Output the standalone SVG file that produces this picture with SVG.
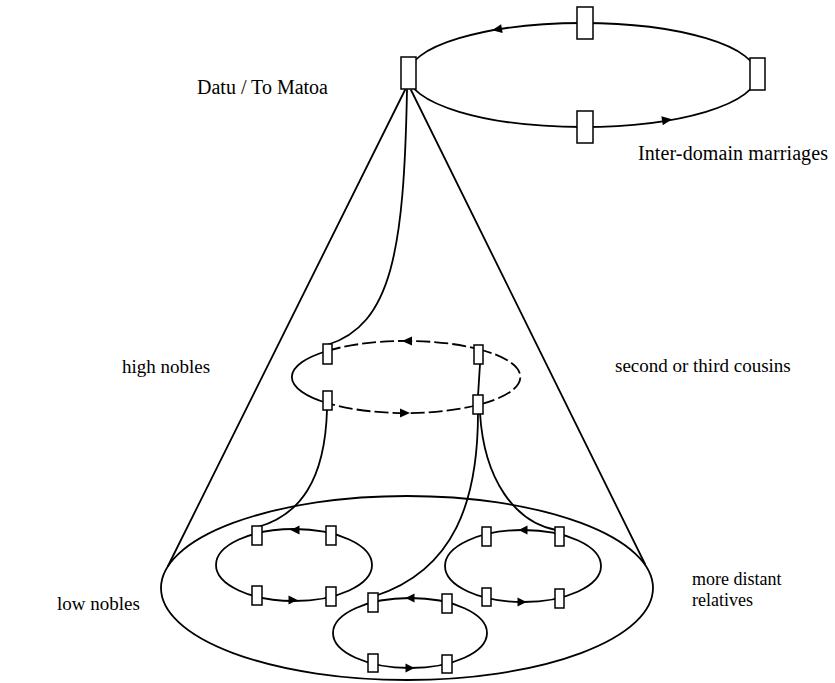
<svg xmlns="http://www.w3.org/2000/svg" width="835" height="683" viewBox="0 0 835 683">
<defs>
<style>
.ln{fill:none;stroke:#000;stroke-width:1.8;stroke-linecap:round}
.el{fill:none;stroke:#000;stroke-width:1.8}
.dash{fill:none;stroke:#000;stroke-width:1.8;stroke-dasharray:14 4}
.bx{fill:#fff;stroke:#000;stroke-width:1.5}
.ar{fill:#000}
.lbl{font-family:"Liberation Serif","Times New Roman",serif;fill:#000}
.big{font-size:20px}
.sm{font-size:19px}
.xs{font-size:18px}
</style>
<path id="arr" d="M5,0 L-5,-4.5 L-5,4.5 Z"/>
<path id="arrs" d="M4.5,0 L-4.5,-4.5 L-4.5,4.5 Z"/>
</defs>
<rect width="835" height="683" fill="#fff"/>

<g id="connectors">
<line class="ln" x1="405" y1="90" x2="168" y2="566"/>
<line class="ln" x1="411" y1="90" x2="645" y2="564"/>
<path class="ln" d="M407,90 C404,250 392,325 327,345"/>
<path class="ln" d="M480,364 L478,396"/>
<path class="ln" d="M327,410 C325,480 300,515 258,527"/>
<path class="ln" d="M478,413 C478,500 455,570 375,596"/>
<path class="ln" d="M480,413 C484,480 515,522 556,530"/>
</g>

<g id="low-nobles-circle">
<ellipse class="el" cx="407" cy="588" rx="246" ry="92"/>
</g>

<g id="inter-domain-ring">
<ellipse class="el" cx="582.5" cy="75" rx="174.5" ry="52"/>
<use href="#arr" class="ar" transform="translate(497,29.5) rotate(170)"/>
<use href="#arr" class="ar" transform="translate(667,120) rotate(-9)"/>
<rect class="bx" x="577" y="7" width="16" height="32"/>
<rect class="bx" x="750" y="58" width="15" height="32"/>
<rect class="bx" x="577" y="111" width="16" height="32"/>
</g>

<g id="datu">
<rect class="bx" x="401" y="57" width="15" height="32"/>
</g>

<g id="high-nobles-ring">
<path class="el" d="M327,351 A114,36 0 0 0 327,403"/>
<path class="dash" d="M327,351 A114,36 0 0 1 478,349"/>
<path class="dash" d="M478,349 A114,36 0 0 1 478,405"/>
<path class="dash" d="M478,405 A114,36 0 0 1 327,403"/>
<use href="#arr" class="ar" transform="translate(407,341) rotate(180)"/>
<use href="#arr" class="ar" transform="translate(405,413)"/>
<rect class="bx" x="323" y="344" width="9" height="20"/>
<rect class="bx" x="474" y="345" width="9" height="19"/>
<rect class="bx" x="323" y="391" width="9" height="19"/>
<rect class="bx" x="473" y="395" width="10" height="19"/>
</g>

<g id="low-left-ring">
<ellipse class="el" cx="294" cy="565" rx="78" ry="36"/>
<use href="#arrs" class="ar" transform="translate(295,530) rotate(180)"/>
<use href="#arrs" class="ar" transform="translate(293,600)"/>
<rect class="bx" x="252" y="526" width="10" height="19"/>
<rect class="bx" x="326" y="526" width="10" height="19"/>
<rect class="bx" x="252" y="586" width="10" height="19"/>
<rect class="bx" x="326" y="587" width="10" height="19"/>
</g>

<g id="low-bottom-ring">
<ellipse class="el" cx="410" cy="633" rx="77" ry="35"/>
<use href="#arrs" class="ar" transform="translate(410,598) rotate(180)"/>
<use href="#arrs" class="ar" transform="translate(410,668)"/>
<rect class="bx" x="368" y="593" width="10" height="19"/>
<rect class="bx" x="442" y="594" width="10" height="19"/>
<rect class="bx" x="368" y="654" width="10" height="18"/>
<rect class="bx" x="442" y="655" width="10" height="18"/>
</g>

<g id="low-right-ring">
<ellipse class="el" cx="523" cy="566" rx="78" ry="36"/>
<use href="#arrs" class="ar" transform="translate(523,530) rotate(180)"/>
<use href="#arrs" class="ar" transform="translate(522,602)"/>
<rect class="bx" x="482" y="527" width="9" height="19"/>
<rect class="bx" x="555" y="527" width="9" height="19"/>
<rect class="bx" x="482" y="588" width="9" height="18"/>
<rect class="bx" x="555" y="589" width="9" height="19"/>
</g>

<g id="labels">
<text class="lbl big" x="197" y="94" textLength="131">Datu / To Matoa</text>
<text class="lbl big" x="638" y="160" textLength="190">Inter-domain marriages</text>
<text class="lbl sm" x="122" y="373">high nobles</text>
<text class="lbl sm" x="615" y="372">second or third cousins</text>
<text class="lbl sm" x="57" y="610">low nobles</text>
<text class="lbl xs" x="692" y="585">more distant</text>
<text class="lbl xs" x="692" y="606">relatives</text>
</g>
</svg>
